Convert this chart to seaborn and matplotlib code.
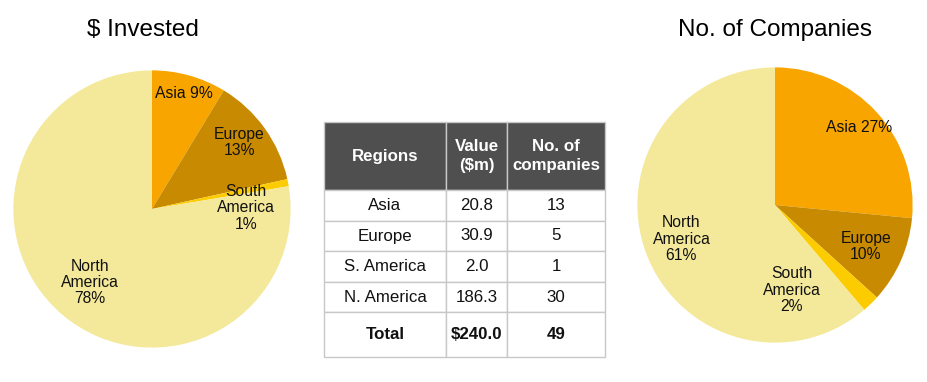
import numpy as np
import pandas as pd
import seaborn as sns
import matplotlib.pyplot as plt

# data
regions = ['Asia', 'Europe', 'S. America', 'N. America']
pie_names = ['Asia', 'Europe', 'South\nAmerica', 'North\nAmerica']
invested = [20.8, 30.9, 2.0, 186.3]
companies = [13, 5, 1, 30]
total_invested = '$240.0'
total_companies = '49'

sns.set_theme(style='white')
plt.rcParams['font.family'] = ['Liberation Sans', 'DejaVu Sans']
plt.rcParams['text.color'] = 'black'
colors = sns.color_palette(['#F8A500', '#C78A00', '#FCCB00', '#F4E99A'])

fig = plt.figure(figsize=(9.27, 3.82), dpi=100)
W, H = 927, 382


def pie_axes(cx, cy, r):
    return fig.add_axes([(cx - r) / W, (H - cy - r) / H, 2 * r / W, 2 * r / H])


def draw_pie(ax, values, label_pos, label_fmt):
    ax.pie(values, colors=colors, startangle=90, counterclock=False,
           wedgeprops=dict(linewidth=0))
    ax.set_xlim(-1.01, 1.01)
    ax.set_ylim(-1.01, 1.01)
    ax.set_aspect('equal')
    ax.axis('off')
    pct = np.array(values) / np.sum(values) * 100
    for name, p, (x, y), fmt in zip(pie_names, pct, label_pos, label_fmt):
        txt = fmt.format(name=name, p=p)
        ax.text(x, y, txt, ha='center', va='center', fontsize=11.3,
                linespacing=1.12, color='#111111')


fmts = ['{name} {p:.0f}%', '{name}\n{p:.0f}%', '{name}\n{p:.0f}%', '{name}\n{p:.0f}%']

# left pie
ax1 = pie_axes(152, 209, 140)
draw_pie(ax1, invested,
         [(0.23, 0.83), (0.63, 0.48), (0.68, 0.01), (-0.45, -0.53)], fmts)
fig.text(143 / W, 1 - 30 / H, '$ Invested', ha='center', va='center', fontsize=17.5)

# right pie
ax2 = pie_axes(775, 205, 139)
draw_pie(ax2, companies,
         [(0.61, 0.56), (0.66, -0.30), (0.12, -0.62), (-0.68, -0.25)], fmts)
fig.text(775 / W, 1 - 30 / H, 'No. of Companies', ha='center', va='center', fontsize=17.5)

# table
tx0, tx1, ty0, ty1 = 324, 605, 122, 357
axt = fig.add_axes([tx0 / W, (H - ty1) / H, (tx1 - tx0) / W, (ty1 - ty0) / H])
axt.axis('off')
rows = [[r, f'{v:.1f}', str(c)] for r, v, c in zip(regions, invested, companies)]
rows.append(['Total', total_invested, total_companies])
header = ['Regions', 'Value\n($m)', 'No. of\ncompanies']
tbl = axt.table(cellText=rows, colLabels=header, cellLoc='center',
                bbox=[0, 0, 1, 1])
tbl.auto_set_font_size(False)
tbl.set_fontsize(12.2)
col_w = [122, 61, 98]
row_h = [68, 31, 30, 31, 30, 45]
for (r, c), cell in tbl.get_celld().items():
    cell.set_width(col_w[c])
    cell.set_height(row_h[r])
    cell.set_edgecolor('#c8c8c8')
    cell.set_linewidth(1.0)
    t = cell.get_text()
    if r == 0:
        cell.set_facecolor('#4f4f4f')
        t.set_color('white')
        t.set_fontweight('bold')
        t.set_linespacing(1.4)
    else:
        cell.set_facecolor('white')
        t.set_color('#111111')
    if r == len(rows):
        t.set_fontweight('bold')

fig.savefig('out.png', dpi=100, facecolor='white')
